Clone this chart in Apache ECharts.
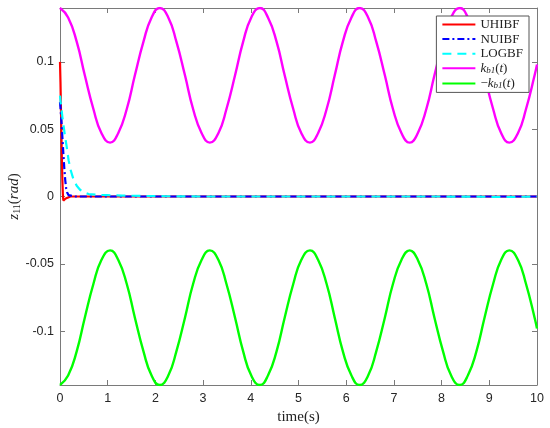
<!DOCTYPE html>
<html>
<head>
<meta charset="utf-8">
<script src="https://cdn.jsdelivr.net/npm/echarts@6/dist/echarts.min.js"></script>
<style>
  html, body { margin: 0; padding: 0; background: #fff; }
  #chart { width: 550px; height: 428px; }
</style>
</head>
<body>
<div id="chart"></div>
<script>
// bound curves k_b1(t) and -k_b1(t)
var kbT = [0, 0.17, 0.35, 0.52, 0.70, 0.87, 1.05, 1.22, 1.40, 1.57, 1.75, 1.92,
  2.09, 2.27, 2.44, 2.62, 2.79, 2.97, 3.14, 3.32, 3.49, 3.67, 3.84, 4.01,
  4.19, 4.36, 4.54, 4.71, 4.89, 5.06, 5.24, 5.41, 5.59, 5.76, 5.93, 6.11,
  6.28, 6.46, 6.63, 6.81, 6.98, 7.16, 7.33, 7.50, 7.68, 7.85, 8.03, 8.20,
  8.38, 8.55, 8.73, 8.90, 9.08, 9.25, 9.42, 9.60, 9.77, 9.95, 10];
var kbUpper = [0.14, 0.133, 0.115, 0.09, 0.065, 0.047, 0.04, 0.047, 0.065, 0.09, 0.115, 0.133,
  0.14, 0.133, 0.115, 0.09, 0.065, 0.047, 0.04, 0.047, 0.065, 0.09, 0.115, 0.133,
  0.14, 0.133, 0.115, 0.09, 0.065, 0.047, 0.04, 0.047, 0.065, 0.09, 0.115, 0.133,
  0.14, 0.133, 0.115, 0.09, 0.065, 0.047, 0.04, 0.047, 0.065, 0.09, 0.115, 0.133,
  0.14, 0.133, 0.115, 0.09, 0.065, 0.047, 0.04, 0.047, 0.065, 0.09, 0.098];
var kbLower = [-0.14, -0.133, -0.115, -0.09, -0.065, -0.047, -0.04, -0.047, -0.065, -0.09, -0.115, -0.133,
  -0.14, -0.133, -0.115, -0.09, -0.065, -0.047, -0.04, -0.047, -0.065, -0.09, -0.115, -0.133,
  -0.14, -0.133, -0.115, -0.09, -0.065, -0.047, -0.04, -0.047, -0.065, -0.09, -0.115, -0.133,
  -0.14, -0.133, -0.115, -0.09, -0.065, -0.047, -0.04, -0.047, -0.065, -0.09, -0.115, -0.133,
  -0.14, -0.133, -0.115, -0.09, -0.065, -0.047, -0.04, -0.047, -0.065, -0.09, -0.098];

// tracking errors
var uhibfT = [0, 0.01, 0.02, 0.03, 0.04, 0.05, 0.06, 0.07, 0.09, 0.12, 0.16, 0.22, 0.4, 1, 10];
var uhibfV = [0.1, 0.085, 0.065, 0.045, 0.027, 0.012, 0.002, -0.003, -0.003, -0.0015, -0.0005, 0, 0, 0, 0];

var nuibfT = [0, 0.01, 0.03, 0.05, 0.07, 0.09, 0.11, 0.13, 0.15, 0.18, 0.22, 0.3, 1, 10];
var nuibfV = [0.07, 0.066, 0.056, 0.044, 0.032, 0.021, 0.012, 0.006, 0.003, 0.001, 0.0003, 0, 0, 0];

var logbfT = [0, 0.02, 0.05, 0.1, 0.14, 0.18, 0.22, 0.28, 0.35, 0.42, 0.5, 0.6, 0.8, 1.0, 1.3, 1.7, 2.2, 3, 4, 6, 8, 9, 9.5, 10];
var logbfV = [0.075, 0.068, 0.059, 0.046, 0.037, 0.027, 0.02, 0.013, 0.008, 0.005, 0.003, 0.0018, 0.0012, 0.001, 0.0007,
  0.0004, 0.0002, 0, 0, 0, 0, -0.0002, -0.0003, 0];

var yTicks = [-0.1, -0.05, 0, 0.05, 0.1];

function pairs(ts, vs) {
  return ts.map(function (t, i) { return [t, vs[i]]; });
}

var axisColor = '#7a7a7a';
var serif = '"Liberation Serif", "Times New Roman", serif';
var sans = '"Liberation Sans", Arial, sans-serif';

var chart = echarts.init(document.getElementById('chart'));

var tickStyle = { show: true, inside: true, length: 5, lineStyle: { color: axisColor, width: 1 } };

chart.setOption({
  animation: false,
  backgroundColor: '#fff',
  grid: { left: 60, top: 8, right: 13, bottom: 43, containLabel: false, outerBoundsMode: 'none' },
  legend: {
    orient: 'vertical',
    right: 21,
    top: 16,
    padding: [2, 6, 2, 5],
    itemWidth: 33,
    itemHeight: 14,
    itemGap: 1.6,
    itemStyle: { opacity: 0 },
    backgroundColor: '#fff',
    borderColor: '#555',
    borderWidth: 1,
    textStyle: {
      fontFamily: serif,
      fontSize: 13,
      color: '#222',
      rich: {
        i: { fontFamily: serif, fontStyle: 'italic', fontSize: 13, lineHeight: 14, color: '#222' },
        s: { fontFamily: serif, fontStyle: 'italic', fontSize: 9, lineHeight: 10, verticalAlign: 'bottom', color: '#222' },
        n: { fontFamily: serif, fontSize: 13, lineHeight: 14, color: '#222' }
      }
    },
    formatter: function (name) {
      if (name === 'kb1') return '{i|k}{s|b1}{n|(}{i|t}{n|)}';
      if (name === '-kb1') return '{n|\u2212}{i|k}{s|b1}{n|(}{i|t}{n|)}';
      return name;
    },
    data: ['UHIBF', 'NUIBF', 'LOGBF', 'kb1', '-kb1']
  },
  xAxis: [{
    type: 'value',
    min: 0,
    max: 10,
    interval: 1,
    name: 'time(s)',
    nameLocation: 'middle',
    nameGap: 25,
    nameMoveOverlap: false,
    nameTextStyle: { fontFamily: serif, fontSize: 15, color: '#222' },
    axisLine: { show: true, onZero: false, lineStyle: { color: axisColor, width: 1 } },
    axisTick: tickStyle,
    axisLabel: { fontFamily: sans, fontSize: 12.5, color: '#262626', margin: 7 },
    splitLine: { show: false }
  }, {
    type: 'value',
    position: 'top',
    min: 0,
    max: 10,
    interval: 1,
    axisLine: { show: true, onZero: false, lineStyle: { color: axisColor, width: 1 } },
    axisTick: tickStyle,
    axisLabel: { show: false },
    splitLine: { show: false }
  }],
  yAxis: [{
    type: 'value',
    min: -0.14,
    max: 0.14,
    name: '{i|z}{s|11}{n|(}{i|rad}{n|)}',
    nameLocation: 'middle',
    nameRotate: 90,
    nameGap: 38,
    nameMoveOverlap: false,
    nameTextStyle: {
      rich: {
        i: { fontFamily: serif, fontStyle: 'italic', fontSize: 15, lineHeight: 16, color: '#222' },
        s: { fontFamily: serif, fontSize: 10, lineHeight: 11, verticalAlign: 'bottom', color: '#222' },
        n: { fontFamily: serif, fontSize: 15, lineHeight: 16, color: '#222' }
      }
    },
    axisLine: { show: true, onZero: false, lineStyle: { color: axisColor, width: 1 } },
    axisTick: Object.assign({ customValues: yTicks }, tickStyle),
    axisLabel: {
      customValues: yTicks,
      fontFamily: sans,
      fontSize: 12.5,
      color: '#262626',
      margin: 6,
      formatter: function (v) { return String(Math.round(v * 100) / 100); }
    },
    splitLine: { show: false }
  }, {
    type: 'value',
    position: 'right',
    min: -0.14,
    max: 0.14,
    axisLine: { show: true, onZero: false, lineStyle: { color: axisColor, width: 1 } },
    axisTick: Object.assign({ customValues: yTicks }, tickStyle),
    axisLabel: { show: false, customValues: yTicks },
    splitLine: { show: false }
  }],
  series: [{
    name: 'UHIBF',
    type: 'line',
    symbol: 'none',
    data: pairs(uhibfT, uhibfV),
    lineStyle: { color: '#ff0000', width: 2.2 },
    itemStyle: { color: '#ff0000' }
  }, {
    name: 'NUIBF',
    type: 'line',
    symbol: 'none',
    data: pairs(nuibfT, nuibfV),
    lineStyle: { color: '#0000ff', width: 2.2, type: [7, 3, 2, 3] },
    itemStyle: { color: '#0000ff' }
  }, {
    name: 'LOGBF',
    type: 'line',
    symbol: 'none',
    data: pairs(logbfT, logbfV),
    lineStyle: { color: '#00ffff', width: 2.2, type: [9, 6] },
    itemStyle: { color: '#00ffff' }
  }, {
    name: 'kb1',
    type: 'line',
    symbol: 'none',
    smooth: true,
    data: pairs(kbT, kbUpper),
    lineStyle: { color: '#ff00ff', width: 2.4 },
    itemStyle: { color: '#ff00ff' }
  }, {
    name: '-kb1',
    type: 'line',
    symbol: 'none',
    smooth: true,
    data: pairs(kbT, kbLower),
    lineStyle: { color: '#00ff00', width: 2.4 },
    itemStyle: { color: '#00ff00' }
  }]
});
</script>
</body>
</html>
